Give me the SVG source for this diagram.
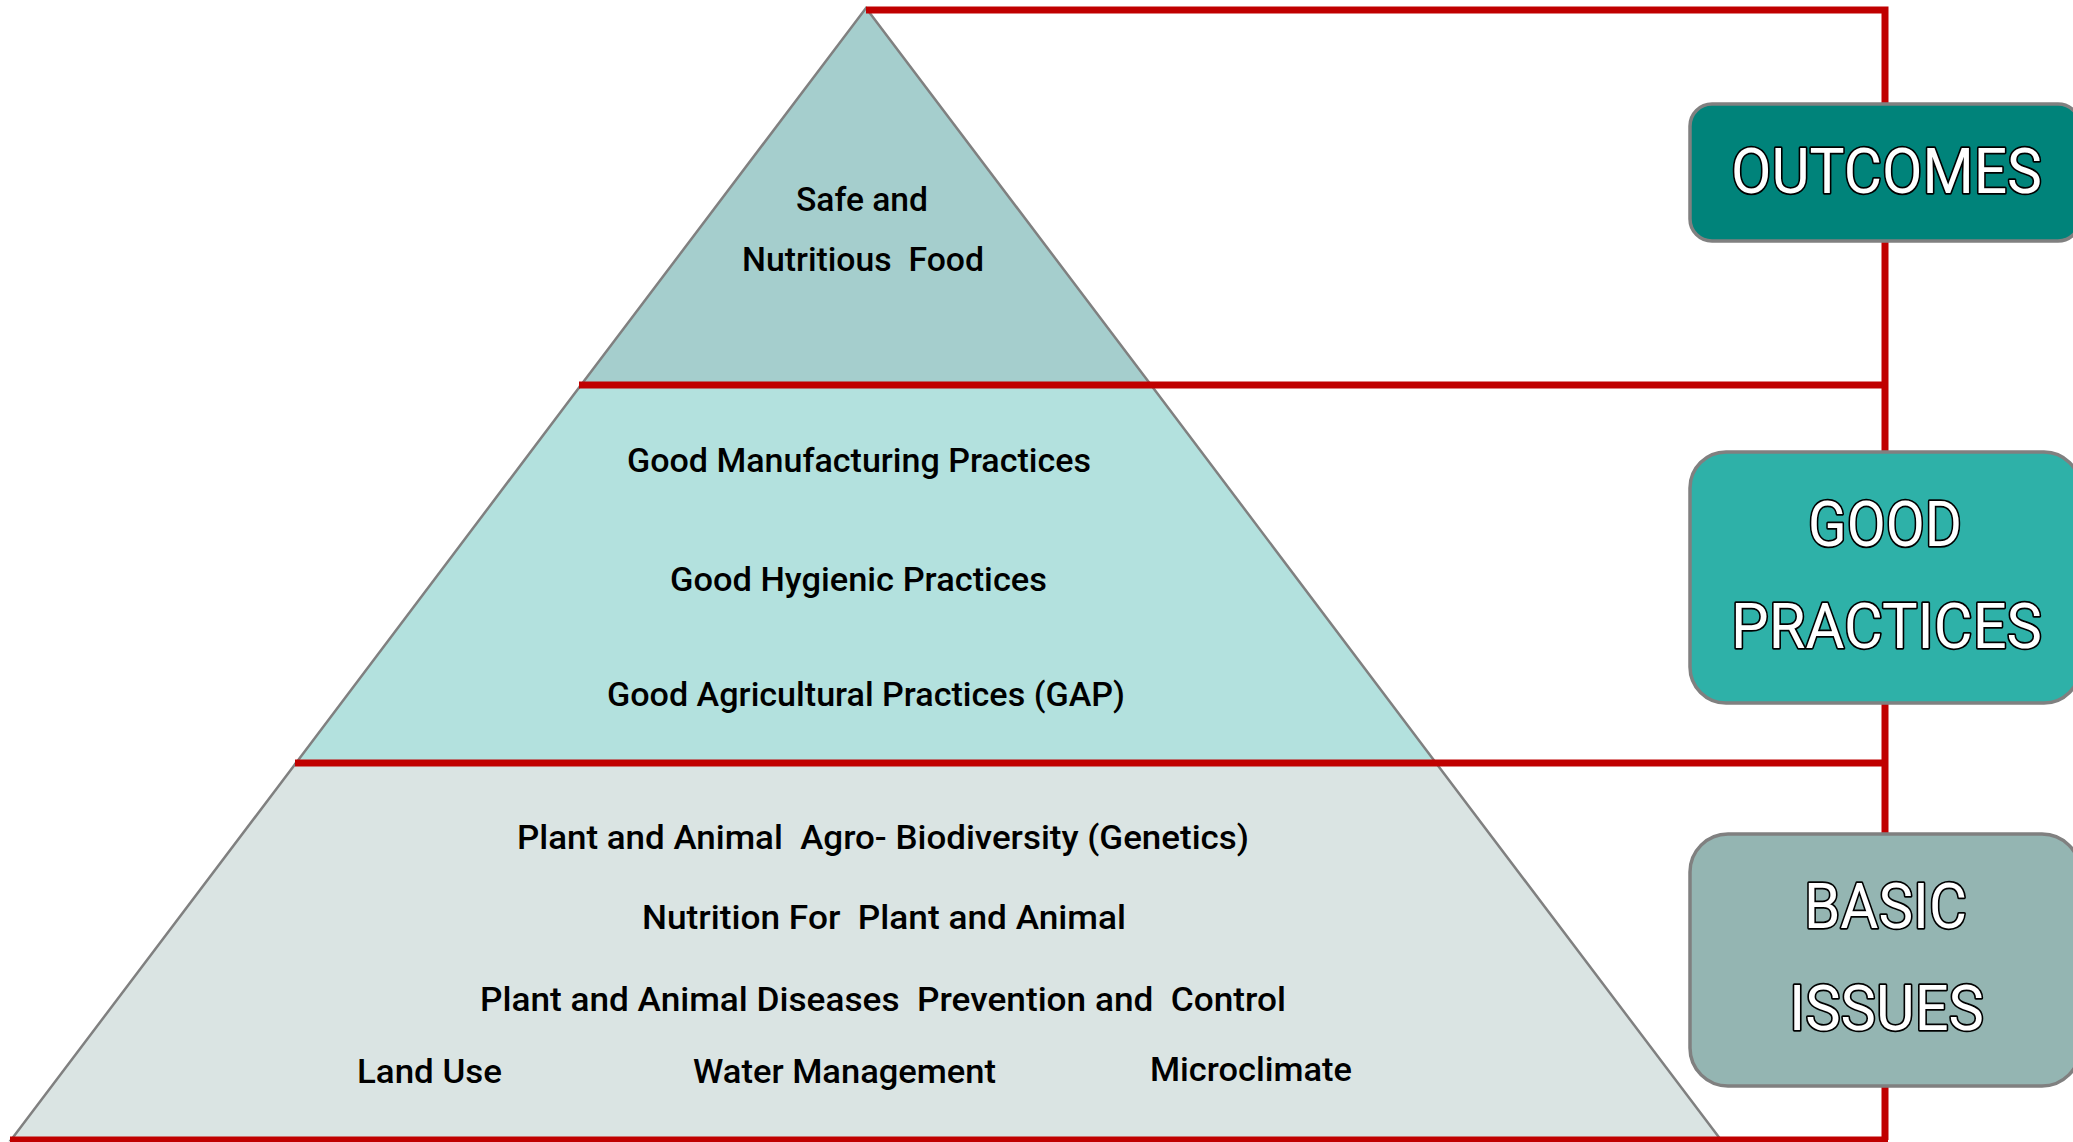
<svg xmlns="http://www.w3.org/2000/svg" width="2073" height="1142" viewBox="0 0 2073 1142">
<style>
.tier{stroke:#808080;stroke-width:2.5;stroke-linejoin:miter}
.lbl{font-family:Roboto,"Liberation Sans",sans-serif;font-weight:500;font-size:34px;fill:#000}
.box{stroke:#808080;stroke-width:3.5}
.head{font-family:Roboto,"Liberation Sans",sans-serif;font-weight:400;font-size:63px;fill:#fff;stroke:#000;stroke-width:3.5;paint-order:stroke;stroke-linejoin:round}
.red{stroke:#C00000;stroke-width:7;fill:none;stroke-linecap:butt}
</style>
<rect width="2073" height="1142" fill="#fff"/>
<g id="pyramid-top">
<polygon class="tier" points="866,8 1151,385 581,385" fill="#A5CECD"/>
<text class="lbl" x="796" y="211" textLength="132" lengthAdjust="spacingAndGlyphs">Safe and</text>
<text class="lbl" x="742" y="271" textLength="242" lengthAdjust="spacingAndGlyphs" xml:space="preserve">Nutritious  Food</text>
</g>
<g id="pyramid-middle">
<polygon class="tier" points="581,385 1151,385 1436,763 296,763" fill="#B3E1DE"/>
<text class="lbl" x="627" y="472" textLength="464" lengthAdjust="spacingAndGlyphs">Good Manufacturing Practices</text>
<text class="lbl" x="670" y="591" textLength="377" lengthAdjust="spacingAndGlyphs">Good Hygienic Practices</text>
<text class="lbl" x="607" y="706" textLength="518" lengthAdjust="spacingAndGlyphs">Good Agricultural Practices (GAP)</text>
</g>
<g id="pyramid-bottom">
<polygon class="tier" points="296,763 1436,763 1721,1140 11,1140" fill="#DAE4E3"/>
<text class="lbl" x="517" y="849" textLength="732" lengthAdjust="spacingAndGlyphs" xml:space="preserve">Plant and Animal  Agro- Biodiversity (Genetics)</text>
<text class="lbl" x="642" y="929" textLength="484" lengthAdjust="spacingAndGlyphs" xml:space="preserve">Nutrition For  Plant and Animal</text>
<text class="lbl" x="480" y="1011" textLength="806" lengthAdjust="spacingAndGlyphs" xml:space="preserve">Plant and Animal Diseases  Prevention and  Control</text>
<text class="lbl" x="357" y="1083" textLength="145" lengthAdjust="spacingAndGlyphs">Land Use</text>
<text class="lbl" x="693" y="1083" textLength="303" lengthAdjust="spacingAndGlyphs">Water Management</text>
<text class="lbl" x="1150" y="1081" textLength="202" lengthAdjust="spacingAndGlyphs">Microclimate</text>
</g>
<g id="connectors">
<polyline class="red" points="866,10 1885,10 1885,1140"/>
<line class="red" x1="579" y1="385" x2="1885" y2="385"/>
<line class="red" x1="295" y1="763" x2="1885" y2="763"/>
<line class="red" x1="10" y1="1140" x2="1888" y2="1140"/>
</g>
<g id="outcomes">
<rect class="box" x="1690" y="104" width="390" height="137" rx="22" fill="#00837A"/>
<text class="head" x="1731" y="193" textLength="311" lengthAdjust="spacingAndGlyphs">OUTCOMES</text>
</g>
<g id="good-practices">
<rect class="box" x="1690" y="452" width="390" height="251" rx="36" fill="#2EB1A8"/>
<text class="head" x="1808" y="546" textLength="154" lengthAdjust="spacingAndGlyphs">GOOD</text>
<text class="head" x="1731" y="648" textLength="311" lengthAdjust="spacingAndGlyphs">PRACTICES</text>
</g>
<g id="basic-issues">
<rect class="box" x="1690" y="834" width="390" height="252" rx="38" fill="#94B5B2"/>
<text class="head" x="1804" y="928" textLength="163" lengthAdjust="spacingAndGlyphs">BASIC</text>
<text class="head" x="1789" y="1030" textLength="195" lengthAdjust="spacingAndGlyphs">ISSUES</text>
</g>
</svg>
